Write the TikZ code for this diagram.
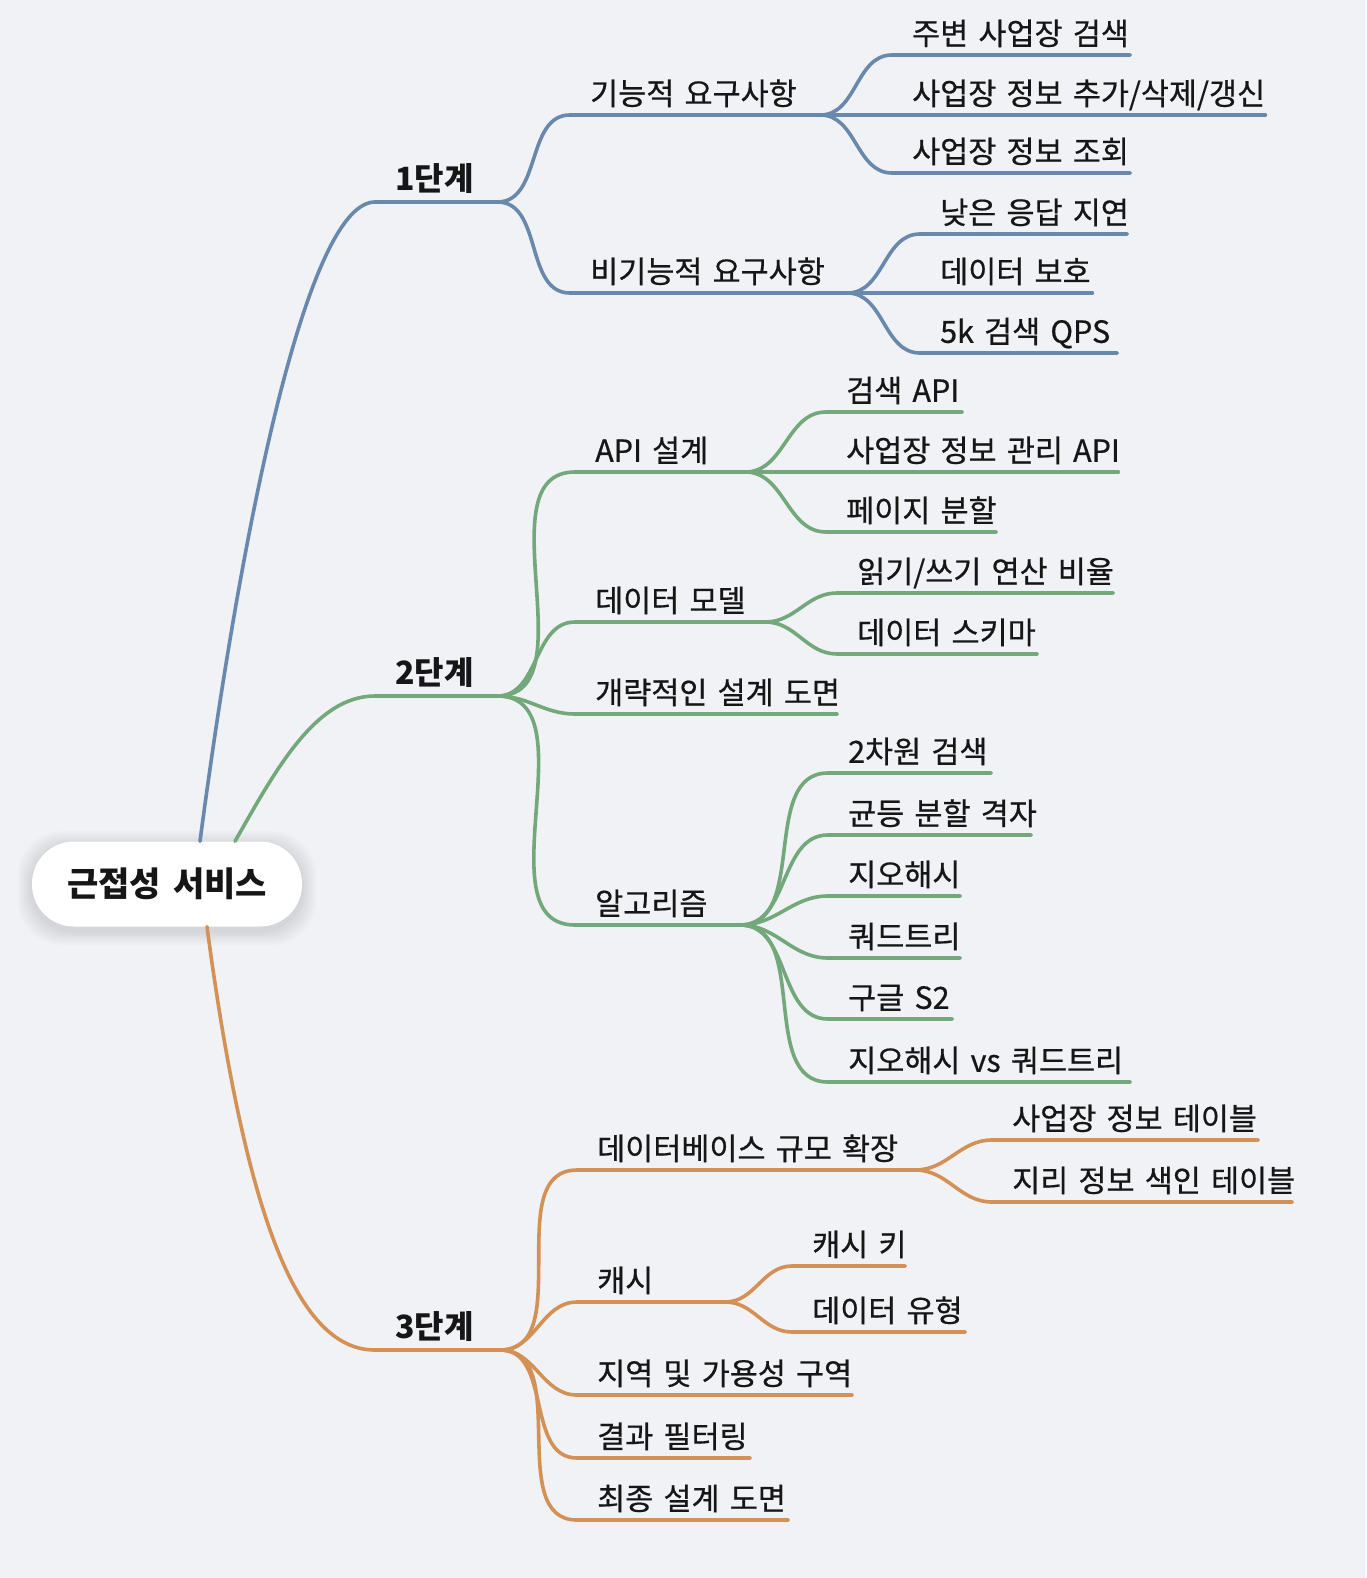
\documentclass[tikz,border=0pt]{standalone}
\usepackage{fontspec}
\setmainfont{Noto Sans CJK KR}[WordSpace=1.55, UprightFeatures={FakeBold=0.6}]
\definecolor{paper}{RGB}{241,242,246}
\definecolor{ink}{RGB}{22,22,22}
\definecolor{stepblue}{RGB}{104,137,172}
\definecolor{stepgreen}{RGB}{114,168,122}
\definecolor{steporange}{RGB}{211,145,86}
\pgfdeclarelayer{bg}
\pgfsetlayers{bg,main}

\begin{document}
\begin{tikzpicture}[x=1pt, y=-1pt]
  \tikzstyle{root} = [rectangle, rounded corners=42pt, fill=white, text=ink, minimum width=270pt,
                      minimum height=85pt, font=\fontsize{34}{40}\selectfont\bfseries]
  \tikzstyle{stage} = [anchor=south west, inner xsep=0pt, inner ysep=11pt, text depth=0pt, text=ink,
                       align=left, font=\fontsize{32}{38}\selectfont\bfseries,
                       execute at begin node=\hbox\bgroup, execute at end node=\egroup]
  \tikzstyle{item} = [stage, inner ysep=10pt, font=\fontsize{30.5}{36}\selectfont]
  \tikzstyle{link} = [out=0, in=180]
  \tikzstyle{blueline} = [draw=stepblue, line width=3.6pt, line cap=round]
  \tikzstyle{greenline} = [draw=stepgreen, line width=3.6pt, line cap=round]
  \tikzstyle{orangeline} = [draw=steporange, line width=3.6pt, line cap=round]
\useasboundingbox (0,0) rectangle (1366,1578);
\begin{pgfonlayer}{bg}
  \fill[paper] (0,0) rectangle (1366,1578);
\end{pgfonlayer}
\node[root] (root) at (167,884) {근접성 서비스};
\begin{pgfonlayer}{bg}
  \foreach \s in {2,4,...,14}
    \fill[black, opacity=0.014, rounded corners=44pt]
      ([shift={(-\s,-\s+4)}]root.north west) rectangle ([shift={(\s,\s+4)}]root.south east);
\end{pgfonlayer}
\node[stage, text width=102pt] (s1) at (395,202) {1단계};
\node[stage, text width=102pt] (s2) at (395,696) {2단계};
\node[stage, text width=105pt] (s3) at (395,1350) {3단계};
\node[item, text width=230pt] (fr) at (590,115) {기능적 요구사항};
\node[item, text width=257pt] (nfr) at (590,293) {비기능적 요구사항};
\node[item, text width=218pt] (fr1) at (912,55) {주변 사업장 검색};
\node[item, text width=353pt] (fr2) at (912,115) {사업장 정보 추가/삭제/갱신};
\node[item, text width=218pt] (fr3) at (912,173) {사업장 정보 조회};
\node[item, text width=187pt] (nfr1) at (940,234) {낮은 응답 지연};
\node[item, text width=152pt] (nfr2) at (940,293) {데이터 보호};
\node[item, text width=177pt] (nfr3) at (940,353) {5k 검색 QPS};
\node[item, text width=150pt] (api) at (595,472) {API 설계};
\node[item, text width=170pt] (model) at (595,622) {데이터 모델};
\node[item, text width=242pt] (hld) at (595,714) {개략적인 설계 도면};
\node[item, text width=145pt] (algo) at (595,925) {알고리즘};
\node[item, text width=116pt] (api1) at (846,412) {검색 API};
\node[item, text width=272pt] (api2) at (846,472) {사업장 정보 관리 API};
\node[item, text width=150pt] (api3) at (846,532) {페이지 분할};
\node[item, text width=256pt] (model1) at (857,593) {읽기/쓰기 연산 비율};
\node[item, text width=180pt] (model2) at (857,654) {데이터 스키마};
\node[item, text width=143pt] (algo1) at (848,773) {2차원 검색};
\node[item, text width=183pt] (algo2) at (848,835) {균등 분할 격자};
\node[item, text width=112pt] (algo3) at (848,896) {지오해시};
\node[item, text width=112pt] (algo4) at (848,958) {쿼드트리};
\node[item, text width=104pt] (algo5) at (848,1019) {구글 S2};
\node[item, text width=282pt] (algo6) at (848,1082) {지오해시 vs 쿼드트리};
\node[item, text width=318pt] (db) at (597,1170) {데이터베이스 규모 확장};
\node[item, text width=128pt] (cache) at (597,1302) {캐시};
\node[item, text width=255pt] (zone) at (597,1395) {지역 및 가용성 구역};
\node[item, text width=153pt] (filter) at (597,1458) {결과 필터링};
\node[item, text width=191pt] (final) at (597,1520) {최종 설계 도면};
\node[item, text width=246pt] (db1) at (1012,1140) {사업장 정보 테이블};
\node[item, text width=280pt] (db2) at (1012,1202) {지리 정보 색인 테이블};
\node[item, text width=93pt] (cache1) at (812,1266) {캐시 키};
\node[item, text width=153pt] (cache2) at (812,1332) {데이터 유형};
\draw[blueline] ([xshift=33pt]root.north) .. controls +(45,-340) and +(-65,0) .. ([xshift=-20pt]s1.south west) -- (s1.south east);
\draw[blueline] (s1.south east) to[link] ([xshift=-20pt]fr.south west) -- (fr.south east);
\draw[blueline] (s1.south east) to[link] ([xshift=-20pt]nfr.south west) -- (nfr.south east);
\draw[blueline] (fr.south east) to[link] ([xshift=-20pt]fr1.south west) -- (fr1.south east);
\draw[blueline] (fr.south east) to[link] ([xshift=-20pt]fr2.south west) -- (fr2.south east);
\draw[blueline] (fr.south east) to[link] ([xshift=-20pt]fr3.south west) -- (fr3.south east);
\draw[blueline] (nfr.south east) to[link] ([xshift=-20pt]nfr1.south west) -- (nfr1.south east);
\draw[blueline] (nfr.south east) to[link] ([xshift=-20pt]nfr2.south west) -- (nfr2.south east);
\draw[blueline] (nfr.south east) to[link] ([xshift=-20pt]nfr3.south west) -- (nfr3.south east);
\draw[greenline] ([xshift=68pt]root.north) .. controls +(40,-70) and +(-60,0) .. ([xshift=-20pt]s2.south west) -- (s2.south east);
\draw[greenline] (s2.south east) to[link] ([xshift=-20pt]api.south west) -- (api.south east);
\draw[greenline] (s2.south east) to[link] ([xshift=-20pt]model.south west) -- (model.south east);
\draw[greenline] (s2.south east) to[link] ([xshift=-20pt]hld.south west) -- (hld.south east);
\draw[greenline] (s2.south east) to[link] ([xshift=-20pt]algo.south west) -- (algo.south east);
\draw[greenline] (api.south east) to[link] ([xshift=-20pt]api1.south west) -- (api1.south east);
\draw[greenline] (api.south east) to[link] ([xshift=-20pt]api2.south west) -- (api2.south east);
\draw[greenline] (api.south east) to[link] ([xshift=-20pt]api3.south west) -- (api3.south east);
\draw[greenline] (model.south east) to[link] ([xshift=-20pt]model1.south west) -- (model1.south east);
\draw[greenline] (model.south east) to[link] ([xshift=-20pt]model2.south west) -- (model2.south east);
\draw[greenline] (algo.south east) to[link] ([xshift=-20pt]algo1.south west) -- (algo1.south east);
\draw[greenline] (algo.south east) to[link] ([xshift=-20pt]algo2.south west) -- (algo2.south east);
\draw[greenline] (algo.south east) to[link] ([xshift=-20pt]algo3.south west) -- (algo3.south east);
\draw[greenline] (algo.south east) to[link] ([xshift=-20pt]algo4.south west) -- (algo4.south east);
\draw[greenline] (algo.south east) to[link] ([xshift=-20pt]algo5.south west) -- (algo5.south east);
\draw[greenline] (algo.south east) to[link] ([xshift=-20pt]algo6.south west) -- (algo6.south east);
\draw[orangeline] ([xshift=40pt]root.south) .. controls +(40,300) and +(-75,0) .. ([xshift=-20pt]s3.south west) -- (s3.south east);
\draw[orangeline] (s3.south east) to[link] ([xshift=-20pt]db.south west) -- (db.south east);
\draw[orangeline] (s3.south east) to[link] ([xshift=-20pt]cache.south west) -- (cache.south east);
\draw[orangeline] (s3.south east) to[link] ([xshift=-20pt]zone.south west) -- (zone.south east);
\draw[orangeline] (s3.south east) to[link] ([xshift=-20pt]filter.south west) -- (filter.south east);
\draw[orangeline] (s3.south east) to[link] ([xshift=-20pt]final.south west) -- (final.south east);
\draw[orangeline] (db.south east) to[link] ([xshift=-20pt]db1.south west) -- (db1.south east);
\draw[orangeline] (db.south east) to[link] ([xshift=-20pt]db2.south west) -- (db2.south east);
\draw[orangeline] (cache.south east) to[link] ([xshift=-20pt]cache1.south west) -- (cache1.south east);
\draw[orangeline] (cache.south east) to[link] ([xshift=-20pt]cache2.south west) -- (cache2.south east);
\end{tikzpicture}
\end{document}
